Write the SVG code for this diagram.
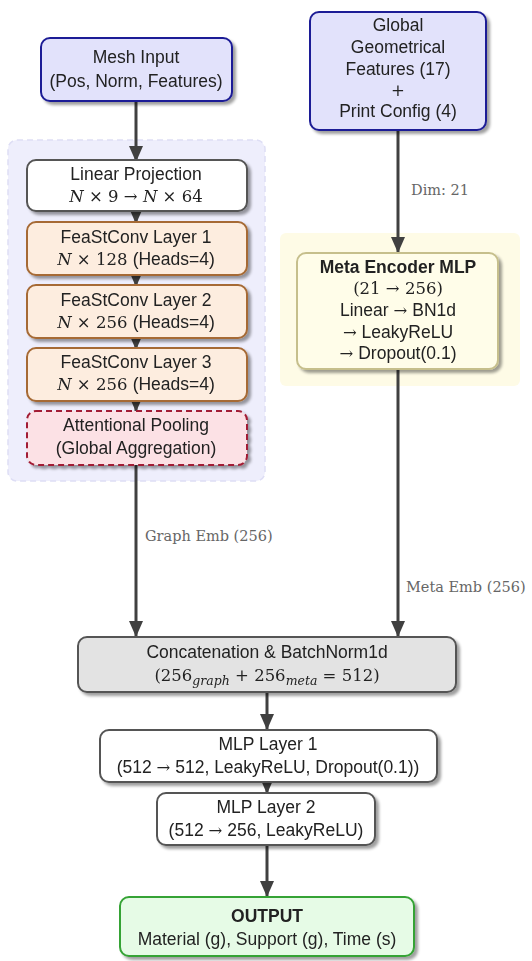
<svg xmlns="http://www.w3.org/2000/svg" width="532" height="961" viewBox="0 0 532 961">
  <defs>
    <filter id="shadow" x="-10%" y="-10%" width="125%" height="135%">
      <feGaussianBlur in="SourceAlpha" stdDeviation="1.6"/>
      <feOffset dx="3" dy="3" result="b"/>
      <feComponentTransfer><feFuncA type="linear" slope="0.38"/></feComponentTransfer>
      <feMerge><feMergeNode/><feMergeNode in="SourceGraphic"/></feMerge>
    </filter>
    <marker id="arrow" markerUnits="userSpaceOnUse" markerWidth="16" markerHeight="14" viewBox="0 0 16 14" refX="16" refY="7" orient="auto">
      <path d="M0,0 L16,7 L0,14 z" fill="#404040"/>
    </marker>
  </defs>
  <style>
    .t { font-family: "Liberation Sans", "DejaVu Sans", sans-serif; font-size: 17.5px; fill: #222; text-anchor: middle; }
    .m { font-family: "DejaVu Serif", "Liberation Serif", serif; font-size: 16.5px; }
    .ar { font-family: "DejaVu Serif", "Liberation Serif", serif; font-size: 16.5px; }
    .i { font-style: italic; }
    .b { font-weight: bold; }
    .lbl { font-family: "DejaVu Serif", "Liberation Serif", serif; font-size: 14.5px; fill: #666; }
    .edge { stroke: #404040; stroke-width: 3; fill: none; marker-end: url(#arrow); }
    .input { fill: #e2e2fb; stroke: #1f1f96; stroke-width: 2; }
    .plain { fill: #ffffff; stroke: #555; stroke-width: 2; }
    .conv { fill: #fdeddf; stroke: #a66a35; stroke-width: 2; }
    .pool { fill: #fce1e5; stroke: #a21f35; stroke-width: 2; stroke-dasharray: 6 4; }
    .meta { fill: #fffde9; stroke: #c6bf8c; stroke-width: 2; }
    .gray { fill: #e3e3e3; stroke: #555; stroke-width: 2; }
    .out { fill: #e6fbe6; stroke: #34a334; stroke-width: 2; }
  </style>

  <!-- background panels -->
  <rect x="8" y="140" width="257" height="341" rx="9" fill="#eeeefc" stroke="#dedef5" stroke-width="1.5" stroke-dasharray="6 4"/>
  <rect x="280" y="233" width="240" height="153" rx="6" fill="#fefbe6"/>

  <!-- connectors -->
  <g id="connectors">
    <line class="edge" x1="136" y1="101" x2="136" y2="162"/>
    <line class="edge" x1="136" y1="211" x2="136" y2="224"/>
    <line class="edge" x1="136" y1="275" x2="136" y2="287"/>
    <line class="edge" x1="136" y1="338" x2="136" y2="350"/>
    <line class="edge" x1="136" y1="401" x2="136" y2="412"/>
    <line class="edge" x1="136" y1="465" x2="136" y2="637"/>
    <line class="edge" x1="398" y1="130" x2="398" y2="253"/>
    <line class="edge" x1="398" y1="369" x2="398" y2="637"/>
    <line class="edge" x1="267" y1="692" x2="267" y2="730"/>
    <line class="edge" x1="267" y1="782" x2="267" y2="794"/>
    <line class="edge" x1="267" y1="845" x2="267" y2="897"/>
    <text class="lbl" x="411" y="195">Dim: 21</text>
    <text class="lbl" x="145" y="541">Graph Emb (256)</text>
    <text class="lbl" x="406" y="592">Meta Emb (256)</text>
  </g>

  <!-- graph branch -->
  <g id="mesh-input" filter="url(#shadow)">
    <rect class="input" x="41" y="38" width="191" height="63" rx="9"/>
    <text class="t" x="136" y="63">Mesh Input</text>
    <text class="t" x="136" y="87">(Pos, Norm, Features)</text>
  </g>
  <g id="linear-projection" filter="url(#shadow)">
    <rect class="plain" x="27" y="160" width="220" height="51" rx="9"/>
    <text class="t" x="136" y="180">Linear Projection</text>
    <text class="t m" x="136" y="202"><tspan class="i">N</tspan> × 9 → <tspan class="i">N</tspan> × 64</text>
  </g>
  <g id="feastconv-1" filter="url(#shadow)">
    <rect class="conv" x="27" y="222" width="220" height="53" rx="9"/>
    <text class="t" x="136" y="243">FeaStConv Layer 1</text>
    <text class="t" x="136" y="265"><tspan class="m i">N</tspan><tspan class="m"> × 128 </tspan>(Heads=4)</text>
  </g>
  <g id="feastconv-2" filter="url(#shadow)">
    <rect class="conv" x="27" y="285" width="220" height="53" rx="9"/>
    <text class="t" x="136" y="306">FeaStConv Layer 2</text>
    <text class="t" x="136" y="328"><tspan class="m i">N</tspan><tspan class="m"> × 256 </tspan>(Heads=4)</text>
  </g>
  <g id="feastconv-3" filter="url(#shadow)">
    <rect class="conv" x="27" y="348" width="220" height="53" rx="9"/>
    <text class="t" x="136" y="368">FeaStConv Layer 3</text>
    <text class="t" x="136" y="390"><tspan class="m i">N</tspan><tspan class="m"> × 256 </tspan>(Heads=4)</text>
  </g>
  <g id="attentional-pooling" filter="url(#shadow)">
    <rect class="pool" x="27" y="411" width="220" height="54" rx="9"/>
    <text class="t" x="136" y="431">Attentional Pooling</text>
    <text class="t" x="136" y="454">(Global Aggregation)</text>
  </g>

  <!-- meta branch -->
  <g id="global-features" filter="url(#shadow)">
    <rect class="input" x="310" y="12" width="176" height="118" rx="9"/>
    <text class="t" x="398" y="31">Global</text>
    <text class="t" x="398" y="53">Geometrical</text>
    <text class="t" x="398" y="75">Features (17)</text>
    <text class="t m" x="398" y="96">+</text>
    <text class="t" x="398" y="117">Print Config (4)</text>
  </g>
  <g id="meta-encoder" filter="url(#shadow)">
    <rect class="meta" x="297" y="253" width="201" height="116" rx="9"/>
    <text class="t b" x="398" y="273">Meta Encoder MLP</text>
    <text class="t m" x="398" y="294">(21 → 256)</text>
    <text class="t" x="398" y="316">Linear <tspan class="ar">→</tspan> BN1d</text>
    <text class="t" x="398" y="338"><tspan class="ar">→</tspan> LeakyReLU</text>
    <text class="t" x="398" y="359"><tspan class="ar">→</tspan> Dropout(0.1)</text>
  </g>

  <!-- fusion head -->
  <g id="concat" filter="url(#shadow)">
    <rect class="gray" x="78" y="637" width="378" height="55" rx="9"/>
    <text class="t" x="267" y="658">Concatenation &amp; BatchNorm1d</text>
    <text class="t m" x="267" y="681">(256<tspan class="i" font-size="12.5" dy="4">graph</tspan><tspan dy="-4"> + 256</tspan><tspan class="i" font-size="12.5" dy="4">meta</tspan><tspan dy="-4"> = 512)</tspan></text>
  </g>
  <g id="mlp-1" filter="url(#shadow)">
    <rect class="plain" x="100" y="730" width="337" height="52" rx="9"/>
    <text class="t" x="268" y="750">MLP Layer 1</text>
    <text class="t" x="268" y="773">(512 <tspan class="ar">→</tspan> 512, LeakyReLU, Dropout(0.1))</text>
  </g>
  <g id="mlp-2" filter="url(#shadow)">
    <rect class="plain" x="157" y="793" width="218" height="52" rx="9"/>
    <text class="t" x="266" y="813">MLP Layer 2</text>
    <text class="t" x="266" y="836">(512 <tspan class="ar">→</tspan> 256, LeakyReLU)</text>
  </g>
  <g id="output" filter="url(#shadow)">
    <rect class="out" x="120" y="897" width="294" height="59" rx="9"/>
    <text class="t b" x="267" y="922">OUTPUT</text>
    <text class="t" x="267" y="945">Material (g), Support (g), Time (s)</text>
  </g>
</svg>
